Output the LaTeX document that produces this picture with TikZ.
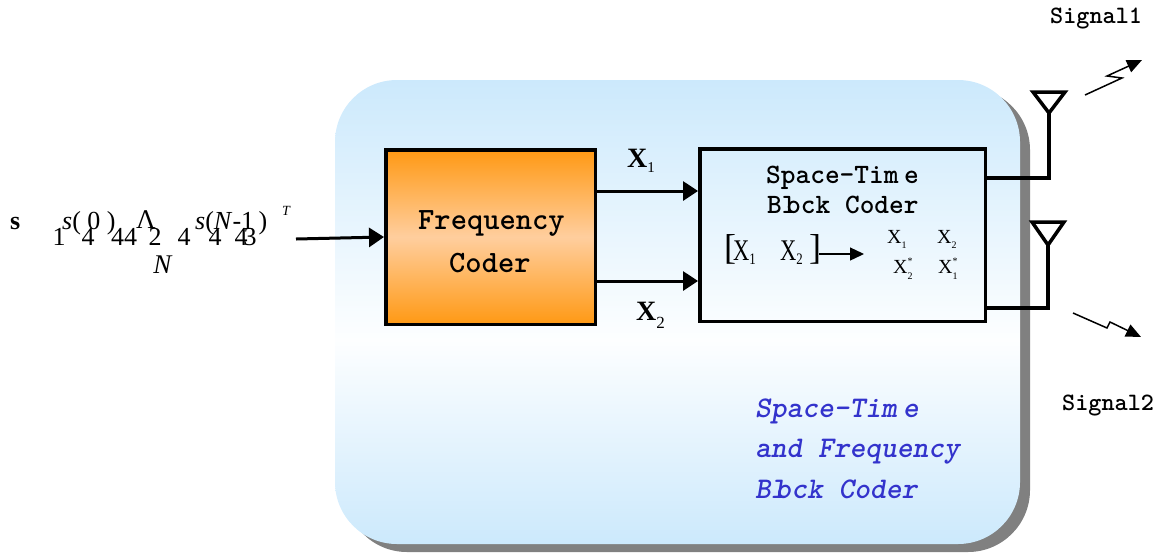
\documentclass[tikz,border=0pt]{standalone}
\usepackage{fontspec}
\setmainfont{Liberation Serif}
\usetikzlibrary{arrows.meta}
\definecolor{bgblue}{RGB}{204,233,252}
\definecolor{orgdark}{RGB}{255,153,20}
\definecolor{orglight}{RGB}{255,206,158}
\definecolor{shadowgray}{RGB}{128,128,128}
\definecolor{txtblue}{RGB}{51,51,204}
\pgfdeclareverticalshading{bgshade}{100bp}{color(0bp)=(bgblue); color(25bp)=(bgblue); color(47bp)=(white!96!bgblue); color(75bp)=(bgblue); color(100bp)=(bgblue)}
\newcommand\fsz[1]{\fontsize{#1}{#1}\selectfont}
\tikzset{
  blockbox/.style={draw, line width=3.5pt, inner sep=0pt},
  cour/.style={font=\ttfamily\bfseries\fsz{#1}, inner sep=0pt, anchor=base west},
  bluetxt/.style={font=\ttfamily\bfseries\itshape\fsz{30}, text=txtblue, inner sep=0pt, anchor=base west},
  tms/.style={font=\fsz{#1}, inner sep=0pt, anchor=base west},
  tmsc/.style={font=\fsz{#1}, inner sep=0pt, anchor=base},
  thickarr/.style={line width=3pt, -{Triangle[length=15pt,width=19pt]}},
  antline/.style={line width=3.5pt, line join=miter},
  bolt/.style={line width=1.5pt, -{Triangle[length=15pt,width=13pt]}},
}
\begin{document}
\begin{tikzpicture}[x=1pt,y=1pt]
\useasboundingbox (0,0) rectangle (1161,-555);
% background panel with shadow
\fill[shadowgray, rounded corners=62pt] (345,-88) rectangle (1030,-552);
\shade[shading=bgshade, rounded corners=62pt] (335,-80) rectangle (1020,-544);

% blocks
\node[blockbox, top color=orgdark, bottom color=orgdark, middle color=orglight,
      minimum width=209.5pt, minimum height=174.5pt] (fc) at (490.5,-237) {};
\node[blockbox, minimum width=285.5pt, minimum height=172.5pt] (st) at (842.5,-235) {};

% block texts
\node[cour=31] (fc1) at (418,-229) {Frequency};
\node[cour=31] (fc2) at (449,-272) {Coder};
\node[cour=28] (st1) at (766,-183) {Space-Tim\kern0.2em e};
\node[cour=28] (st2) at (767,-213) {Bl\kern-0.37em ock Coder};

% matrices inside ST box
\node[tms=36] (lb) at (724,-259) {[};
\node[tms=30] (lx1) at (733,-260) {\scalebox{0.75}[1]{X}\smash{\raisebox{-4pt}{\fsz{16}\scalebox{0.8}[1]{1}}}};
\node[tms=30] (lx2) at (780,-260) {\scalebox{0.75}[1]{X}\smash{\raisebox{-4pt}{\fsz{16}\scalebox{0.8}[1]{2}}}};
\node[tms=36] (rb) at (809,-259) {]};
\coordinate (ma) at (819,-254);
\coordinate (mb) at (864,-254);
\draw[line width=1.3pt, -{Triangle[length=14pt,width=13pt]}] (ma) -- (mb);
\node[tms=20] (r11) at (887,-243) {X\smash{\raisebox{-5pt}{\fsz{10}1}}};
\node[tms=20] (r12) at (937,-243) {X\smash{\raisebox{-5pt}{\fsz{10}2}}};
\node[tms=20] (r21) at (893,-273) {X\rlap{\smash{\raisebox{9pt}{\fsz{10}*}}}\smash{\raisebox{-6pt}{\fsz{10}2}}};
\node[tms=20] (r22) at (938,-273) {X\rlap{\smash{\raisebox{9pt}{\fsz{10}*}}}\smash{\raisebox{-6pt}{\fsz{10}1}}};

% connectors between blocks
\draw[thickarr] (fc.east |- 0,-191) -- (st.west |- 0,-191);
\draw[thickarr] ([xshift=-3pt]fc.east |- 0,-281) -- (st.west |- 0,-281);
\node[tms=28] (x1) at (627,-167) {\textbf{X}\raisebox{-5pt}{\fsz{15}1}};
\node[tms=28] (x2) at (636,-320) {\textbf{X}\raisebox{-8pt}{\fsz{17}2}};

% input formula (as printed)
\node[tms=26] (fs) at (10,-229) {\textbf{s}};
\node[tms=26] (f0) at (62,-229) {\textit{s}( 0 )};
\node[tmsc=27] (flam) at (146,-228) {Λ};
\node[tms=26] (fn1) at (195,-229) {\textit{s}(\textit{N}-1\,)};
\node[tms=14] (fT) at (282,-215) {\textit{T}};
\node[tmsc=26] (d1) at (59,-245) {1};
\node[tmsc=26] (d2) at (88,-245) {4};
\node[tmsc=26] (d3) at (124,-245) {44};
\node[tmsc=26] (d4) at (155,-245) {2};
\node[tmsc=26] (d5) at (184,-245) {4};
\node[tmsc=26] (d6) at (215,-245) {4};
\node[tmsc=26] (d7) at (241,-245) {4};
\node[tmsc=26] (d8) at (250,-245) {3};
\node[tmsc=27] (fN) at (163,-273) {\textit{N}};
\coordinate (in) at (296,-239);
\draw[thickarr] (in) -- (fc.west);

% antennas
\coordinate (a1) at (1049,-113);
\coordinate (a2) at (1048,-245);
\draw[antline] (st.east |- 0,-178) -| (a1);
\draw[antline] (st.east |- 0,-308) -| (a2);
\draw[antline] (1033,-92) -- (1065,-92) -- (a1) -- cycle;
\draw[antline] (1032,-222) -- (1064,-222) -- (a2) -- cycle;

% lightning signals
\coordinate (s1a) at (1085,-95);
\coordinate (s1b) at (1122,-78);
\coordinate (s1c) at (1107,-76);
\coordinate (s1d) at (1142,-60);
\draw[bolt] (s1a) -- (s1b) -- (s1c) -- (s1d);
\coordinate (s2a) at (1073,-313);
\coordinate (s2b) at (1107,-328);
\coordinate (s2c) at (1110,-322);
\coordinate (s2d) at (1141,-337);
\draw[bolt] (s2a) -- (s2b) -- (s2c) -- (s2d);
\node[cour=25] (sig1) at (1050,-23) {Signal1};
\node[cour=25] (sig2) at (1062,-410) {Signal2};

% caption in panel
\node[bluetxt] (b1) at (755,-417) {Space-Tim\kern0.2em e};
\node[bluetxt] (b2) at (755,-457) {and Frequency};
\node[bluetxt] (b3) at (755,-498) {Bl\kern-0.37em ock Coder};
\end{tikzpicture}
\end{document}
